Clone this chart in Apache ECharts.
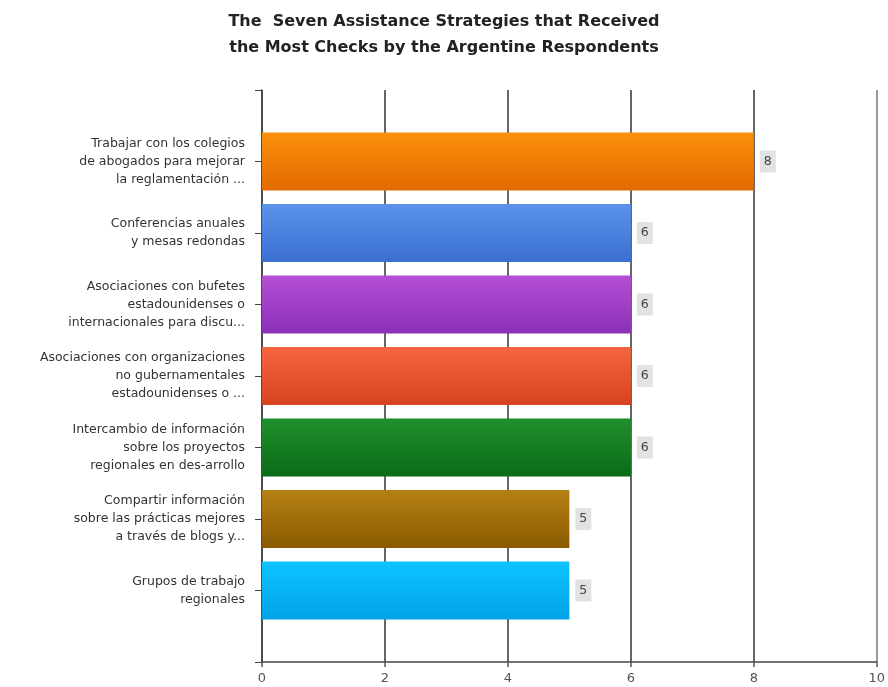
<!DOCTYPE html>
<html>
<head>
<meta charset="utf-8">
<script src="https://cdn.jsdelivr.net/npm/echarts@6/dist/echarts.min.js"></script>
<style>html,body{margin:0;padding:0;background:#fff;}#c{width:888px;height:687px;}</style>
</head>
<body>
<div id="c"></div>
<script>
const titleText = "The  Seven Assistance Strategies that Received\nthe Most Checks by the Argentine Respondents";
const categories = [
  "Trabajar con los colegios\nde abogados para mejorar\nla reglamentación ...",
  "Conferencias anuales\ny mesas redondas",
  "Asociaciones con bufetes\nestadounidenses o\ninternacionales para discu...",
  "Asociaciones con organizaciones\nno gubernamentales\nestadounidenses o ...",
  "Intercambio de información\nsobre los proyectos\nregionales en des-arrollo",
  "Compartir información\nsobre las prácticas mejores\na través de blogs y...",
  "Grupos de trabajo\nregionales"
];
const values = [8, 6, 6, 6, 6, 5, 5];
const topColors = ["#fb8f0c", "#5b93ea", "#b54fd6", "#f4653f", "#1f8f2c", "#b58014", "#0ec4ff"];
const bottomColors = ["#e26a00", "#3b6fd2", "#8c30b8", "#d8431f", "#0b6b18", "#8a5a00", "#00a2e6"];
const xTicks = [0, 2, 4, 6, 8, 10];

const cats = [""].concat(categories, [""]);
const data = [{value: '-'}].concat(values.map((v, i) => ({
  value: v,
  itemStyle: {
    color: new echarts.graphic.LinearGradient(0, 0, 0, 1, [
      {offset: 0, color: topColors[i]},
      {offset: 1, color: bottomColors[i]}
    ])
  }
})), [{value: '-'}]);

const chart = echarts.init(document.getElementById('c'));
chart.setOption({
  animation: false,
  backgroundColor: '#fff',
  title: {
    text: titleText,
    left: 'center',
    top: 4,
    textStyle: {fontFamily: 'DejaVu Sans', fontSize: 16, fontWeight: 'bold', color: '#222', lineHeight: 26}
  },
  grid: {left: 262, right: 10, top: 90, bottom: 25, containLabel: false},
  xAxis: {
    type: 'value',
    min: xTicks[0],
    max: xTicks[xTicks.length - 1],
    interval: 2,
    axisLine: {show: true, lineStyle: {color: '#444', width: 1.5}},
    axisTick: {show: true, length: 5, lineStyle: {color: '#555', width: 1.5}},
    axisLabel: {color: '#555', fontFamily: 'DejaVu Sans', fontSize: 13, margin: 10},
    splitLine: {show: true, lineStyle: {color: ['#666', '#666', '#666', '#666', '#666', '#999'], width: 2}}
  },
  yAxis: {
    type: 'category',
    data: cats,
    inverse: true,
    boundaryGap: false,
    axisLine: {show: true, lineStyle: {color: '#444', width: 1.5}},
    axisTick: {show: true, length: 7, lineStyle: {color: '#444', width: 1}},
    axisLabel: {
      color: '#333', fontFamily: 'DejaVu Sans', fontSize: 12.5, lineHeight: 18,
      margin: 17, align: 'right', interval: 0
    },
    splitLine: {show: false}
  },
  series: [{
    type: 'bar',
    data: data,
    barWidth: 58,
    label: {
      show: true,
      position: 'right',
      distance: 6,
      color: '#444',
      fontFamily: 'DejaVu Sans',
      fontSize: 12.5,
      backgroundColor: '#e2e2e2',
      padding: [5, 4, 4, 4]
    }
  }]
});
</script>
</body>
</html>
